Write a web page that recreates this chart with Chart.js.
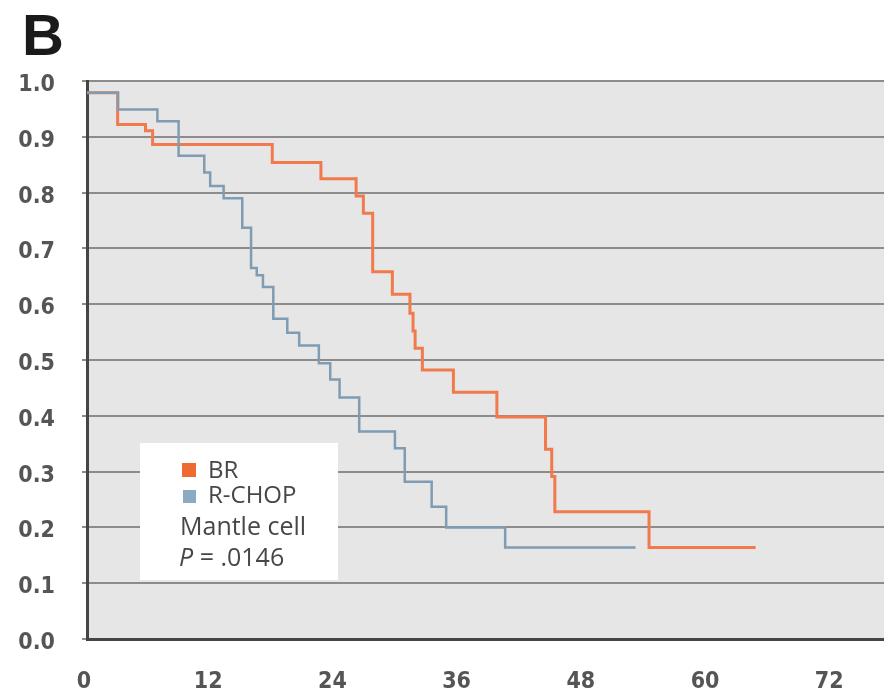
<!DOCTYPE html>
<html>
<head>
<meta charset="utf-8">
<script src="https://cdn.jsdelivr.net/npm/chart.js@4.4.1/dist/chart.umd.min.js"></script>
<style>
  html, body { margin: 0; padding: 0; background: #ffffff; }
  #wrap { width: 884px; height: 699px; }
</style>
</head>
<body>
<div id="wrap"><canvas id="km" width="884" height="699"></canvas></div>
<script>
// Kaplan-Meier survival, mantle cell subgroup: BR vs R-CHOP (months)
const monthTicks = [0, 12, 24, 36, 48, 60, 72];
const survivalTicks = [0, 0.1, 0.2, 0.3, 0.4, 0.5, 0.6, 0.7, 0.8, 0.9, 1.0];

// Each point marks the time a step begins and the survival level after it
const brMonths   = [0, 2.96, 5.65, 6.34, 17.9, 22.6, 26.0, 26.7, 27.6, 29.5, 31.2, 31.5, 31.7, 32.4, 35.4, 39.6, 44.3, 44.9, 45.2, 54.3, 64.6];
const brSurvival = [0.979, 0.922, 0.911, 0.886, 0.854, 0.825, 0.794, 0.763, 0.658, 0.618, 0.584, 0.552, 0.521, 0.482, 0.442, 0.398, 0.340, 0.291, 0.228, 0.164, 0.164];

const rchopMonths   = [0, 3.0, 6.8, 8.85, 11.33, 11.9, 13.2, 15.0, 15.85, 16.4, 17.0, 18.0, 19.35, 20.5, 22.4, 23.5, 24.4, 26.3, 29.75, 30.7, 33.3, 34.7, 40.4, 53.0];
const rchopSurvival = [0.979, 0.949, 0.928, 0.866, 0.836, 0.812, 0.790, 0.737, 0.665, 0.652, 0.631, 0.574, 0.549, 0.526, 0.494, 0.465, 0.433, 0.372, 0.342, 0.282, 0.237, 0.200, 0.164, 0.164];

const seriesNames = ['BR', 'R-CHOP'];
const seriesColors = ['#f07a4c', '#7f9cb3'];
const swatchColors = ['#ee6a32', '#8aabc2'];
const panelLabel = 'B';
const subsetLabel = 'Mantle cell';
const pValueLabel = '.0146';

const toPoints = (xs, ys) => xs.map((x, i) => ({ x: x, y: ys[i] }));

const axisFont = { family: '"Liberation Sans Narrow", "DejaVu Sans Condensed", "Liberation Sans", sans-serif', size: 23, weight: 'bold' };

const panelDecor = {
  id: 'panelDecor',
  beforeDraw(chart) {
    const { ctx, chartArea: a } = chart;
    ctx.save();
    ctx.fillStyle = '#ffffff';
    ctx.fillRect(0, 0, chart.width, chart.height);
    ctx.fillStyle = '#e6e6e6';
    ctx.fillRect(a.left, a.top, a.right - a.left, a.bottom - a.top);
    ctx.fillStyle = '#1a1a1a';
    ctx.font = 'bold 58px "Liberation Sans", Arial, sans-serif';
    ctx.textBaseline = 'alphabetic';
    ctx.textAlign = 'left';
    ctx.fillText(panelLabel, 22, 55);
    ctx.restore();
  },
  afterDatasetsDraw(chart) {
    const { ctx, chartArea: a } = chart;
    const bx = a.left + 53, by = 443, bw = 198, bh = 137;
    ctx.save();
    ctx.fillStyle = '#ffffff';
    ctx.fillRect(bx, by, bw, bh);
    ctx.textAlign = 'left';
    ctx.textBaseline = 'alphabetic';
    const fam = '"Open Sans", "Liberation Sans", sans-serif';
    // series swatches
    ctx.fillStyle = swatchColors[0];
    ctx.fillRect(bx + 42, 463, 14, 14);
    ctx.fillStyle = swatchColors[1];
    ctx.fillRect(bx + 43, 490, 13, 13);
    ctx.fillStyle = '#474747';
    ctx.font = '24px ' + fam;
    ctx.fillText(seriesNames[0], bx + 68, 478);
    ctx.fillText(seriesNames[1], bx + 68, 503);
    ctx.font = '25px ' + fam;
    ctx.fillText(subsetLabel, bx + 40, 535);
    ctx.font = 'italic 25px ' + fam;
    ctx.fillText('P', bx + 39, 566);
    const pw = ctx.measureText('P').width;
    ctx.font = '25px ' + fam;
    ctx.fillText(' = ' + pValueLabel, bx + 39 + pw, 566);
    ctx.restore();
  }
};

new Chart(document.getElementById('km'), {
  type: 'line',
  data: {
    datasets: [
      {
        label: seriesNames[1],
        data: toPoints(rchopMonths, rchopSurvival),
        borderColor: seriesColors[1],
        borderWidth: 2.5,
        stepped: true,
        pointRadius: 0,
        fill: false,
        order: 1
      },
      {
        label: seriesNames[0],
        data: toPoints(brMonths, brSurvival),
        borderColor: seriesColors[0],
        borderWidth: 3,
        stepped: true,
        pointRadius: 0,
        fill: false,
        order: 2
      }
    ]
  },
  options: {
    responsive: false,
    animation: false,
    devicePixelRatio: 1,
    layout: { padding: { top: 81, left: 0, right: 0, bottom: 0 } },
    plugins: {
      legend: { display: false },
      tooltip: { enabled: false },
      title: { display: false }
    },
    scales: {
      x: {
        type: 'linear',
        min: 0,
        max: 77,
        afterBuildTicks: s => { s.ticks = monthTicks.map(v => ({ value: v })); },
        afterFit: s => { s.height = 60; },
        grid: { display: false, drawTicks: false },
        border: { display: true, color: '#454545', width: 3 },
        ticks: {
          padding: 29,
          labelOffset: -3,
          autoSkip: false,
          maxRotation: 0,
          color: '#555555',
          font: axisFont,
          callback: v => String(v)
        }
      },
      y: {
        type: 'linear',
        min: 0,
        max: 1,
        afterBuildTicks: s => { s.ticks = survivalTicks.map(v => ({ value: v })); },
        afterFit: s => { s.width = 87; },
        grid: { color: '#8c8c8c', lineWidth: 2, drawTicks: true, tickLength: 5 },
        border: { display: true, color: '#454545', width: 3 },
        ticks: {
          padding: 27,
          labelOffset: 4,
          color: '#555555',
          font: axisFont,
          callback: v => Number(v).toFixed(1)
        }
      }
    }
  },
  plugins: [panelDecor]
});
</script>
</body>
</html>
